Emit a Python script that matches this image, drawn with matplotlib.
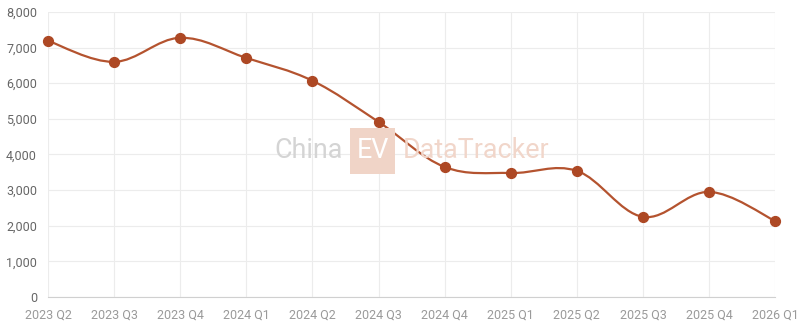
import numpy as np
import matplotlib.pyplot as plt
from matplotlib.path import Path
from matplotlib.patches import PathPatch, Rectangle

plt.rcParams['font.family'] = ['Roboto', 'DejaVu Sans']

quarters = ['2023 Q2', '2023 Q3', '2023 Q4', '2024 Q1', '2024 Q2', '2024 Q3',
            '2024 Q4', '2025 Q1', '2025 Q2', '2025 Q3', '2025 Q4', '2026 Q1']
values = [7190, 6600, 7275, 6710, 6070, 4915, 3650, 3480, 3540, 2250, 2950, 2135]
yticks = [0, 1000, 2000, 3000, 4000, 5000, 6000, 7000, 8000]

line_c = '#b4532f'
dot_c = '#ad4824'

fig = plt.figure(figsize=(8, 3.28), dpi=100)
ax = fig.add_axes([0.06, 0.0945, 0.909, 0.869])

x = np.arange(len(quarters))
y = np.array(values, dtype=float)

# smooth bezier line through the points (cardinal-style control points)
s = 0.35
verts = [(x[0], y[0])]
codes = [Path.MOVETO]
for i in range(len(x) - 1):
    p0 = max(i - 1, 0)
    p3 = min(i + 2, len(x) - 1)
    c1 = (x[i] + s * (x[i + 1] - x[p0]) / 2, y[i] + s * (y[i + 1] - y[p0]) / 2)
    c2 = (x[i + 1] - s * (x[p3] - x[i]) / 2, y[i + 1] - s * (y[p3] - y[i]) / 2)
    verts += [c1, c2, (x[i + 1], y[i + 1])]
    codes += [Path.CURVE4] * 3
ax.add_patch(PathPatch(Path(verts, codes), fill=False, edgecolor=line_c, lw=1.6, zorder=3))
ax.scatter(x, y, s=50, color=dot_c, zorder=4, clip_on=False)

ax.set_xlim(0, len(x) - 1)
ax.set_ylim(0, 8000)
ax.set_xticks(x)
ax.set_xticklabels(quarters)
ax.set_yticks(yticks)
ax.set_yticklabels(['{:,}'.format(v) for v in yticks])
ax.tick_params(axis='x', colors='#9a9a9a', labelsize=9, length=0, pad=8)
ax.tick_params(axis='y', colors='#666666', labelsize=9, length=0, pad=8)
for t in ax.get_xticklabels():
    t.set_color('#9a9a9a')
ax.grid(True, color='#ececec', lw=0.8)
ax.set_axisbelow(True)
for sp in ['top', 'right', 'left']:
    ax.spines[sp].set_visible(False)
ax.spines['bottom'].set_color('#d0d0d0')

# watermark
fig.text(0.429, 0.54, 'China', fontsize=19.4, color='#d4d4d4',
         ha='right', va='center', zorder=0)
fig.patches.append(Rectangle((0.4375, 0.4695), 0.0565, 0.140, transform=fig.transFigure,
                             facecolor='#f0d4c7', edgecolor='none', zorder=0))
fig.text(0.466, 0.54, 'EV', fontsize=19.4, color='white',
         ha='center', va='center', zorder=0)
fig.text(0.503, 0.54, 'DataTracker', fontsize=19.4, color='#f1d6ca',
         ha='left', va='center', zorder=0)

fig.savefig('out.png', dpi=100)
